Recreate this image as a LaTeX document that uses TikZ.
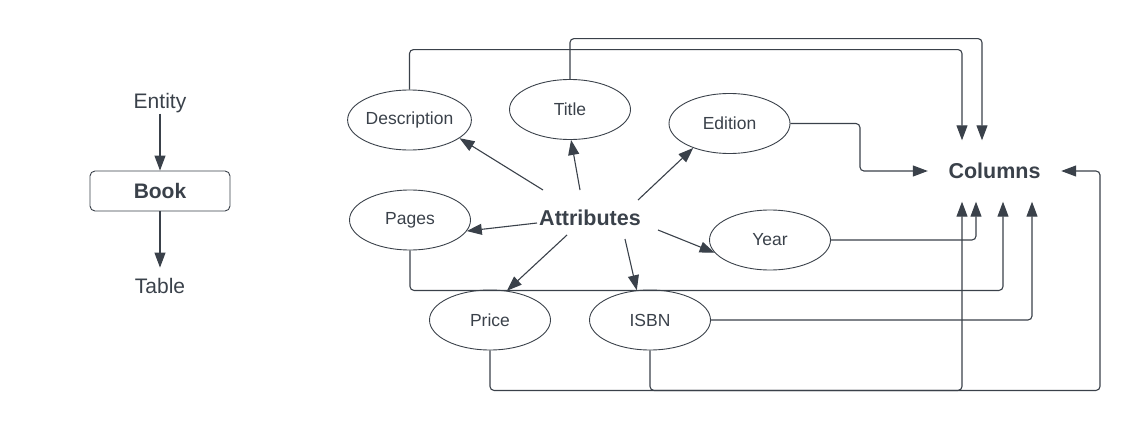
\documentclass[tikz,border=0pt]{standalone}
\usepackage{fontspec}
\setmainfont{Liberation Sans}
\usetikzlibrary{arrows.meta,shapes.geometric}
\definecolor{ink}{HTML}{3A414A}
\tikzset{
  arr/.style={draw=ink, line width=1.1pt, -{Triangle[length=15pt,width=11pt]}},
  link/.style={arr, rounded corners=4pt},
  attrib/.style={ellipse, draw=ink, line width=0.9pt, minimum width=121pt, minimum height=60pt,
    inner sep=0pt, text=ink, font=\fontsize{17.5}{21}\selectfont},
  plain/.style={text=ink, inner sep=1pt, font=\fontsize{21}{25}\selectfont},
  heading/.style={text=ink, font=\bfseries\fontsize{21.5}{26}\selectfont}
}
\begin{document}
\begin{tikzpicture}[x=1pt,y=-1pt]
\useasboundingbox (0,0) rectangle (1141,431);
\node[plain, anchor=base] (entity) at (160,108) {Entity};
\node[draw=ink, line width=0.9pt, rounded corners=5pt, minimum width=140pt, minimum height=40pt,
  text=ink, font=\bfseries\fontsize{21}{25}\selectfont] (book) at (160,191) {Book};
\node[plain, anchor=base] (table) at (160,293) {Table};
\draw[arr] (entity) -- (book);
\draw[arr, shorten >=9pt] (book) -- (table);

\node[attrib] (desc)    at (409.5,120)   {Description};
\node[attrib] (title)   at (570,109.5)   {Title};
\node[attrib] (edition) at (729.5,123.5) {Edition};
\node[attrib] (pages)   at (410,220)     {Pages};
\node[attrib] (year)    at (770,240)     {Year};
\node[attrib] (price)   at (490,320)     {Price};
\node[attrib] (isbn)    at (650,320)     {ISBN};
\node[heading] (attr) at (590,218) {Attributes};
\node[heading, minimum width=133pt, minimum height=61pt, inner sep=0pt] (columns) at (994.5,171) {Columns};

\foreach \e/\a/\dx/\dy in {desc/340/-47/-28, title/272/-10/-28, edition/214/48/-18, pages/349/-53/5,
                           price/60/-23/17, isbn/114/35/21, year/193/68/12}
  \draw[arr] ([shift={(\dx,\dy)}]attr.center) -- (\e.\a);

\draw[link] (desc.north) -- ++(0,-40) -| ([xshift=-32.5pt]columns.north);
\draw[link] (title.north) -- ++(0,-40.5) -| ([xshift=-12.5pt]columns.north);
\draw[link] (edition.east) -- ++(69.5,0) |- (columns.west);
\draw[link] (year.east) -| ([xshift=-18.5pt]columns.south);
\draw[link] (pages.south) -- ++(0,40) -| ([xshift=8.5pt]columns.south);
\draw[link] (isbn.east) -| ([xshift=37.5pt]columns.south);
\draw[link] (price.south) -- ++(0,40) -| ([xshift=-32.5pt]columns.south);
\draw[link] (isbn.south) -- ++(0,40) -- ++(450,0) |- (columns.east);
\end{tikzpicture}
\end{document}
